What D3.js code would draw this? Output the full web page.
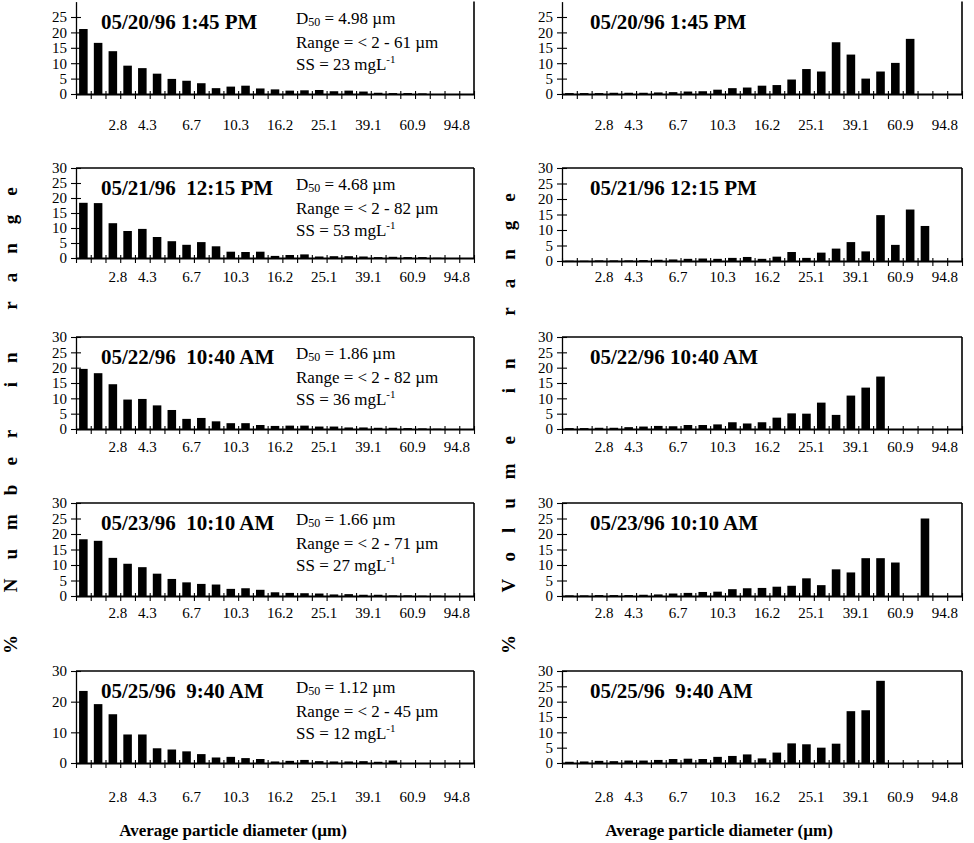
<!DOCTYPE html>
<html>
<head>
<meta charset="utf-8">
<script src="https://cdn.jsdelivr.net/npm/d3@7"></script>
<style>
  body { margin: 0; background: #fff; }
  svg { display: block; }
</style>
</head>
<body>
<div id="chart"></div>
<script>
// % of particles (by number) in each of the 27 size bins, one row per sample
const numberData = [
  [21.1, 16.6, 13.9, 9.2, 8.4, 6.6, 4.9, 4.3, 3.5, 1.9, 2.4, 2.7, 1.8, 1.5, 1.1, 1.2, 1.3, 0.9, 1.1, 0.8, 0.4, 0.3, 0.3, 0.2, 0, 0, 0],
  [18.4, 18.3, 11.6, 9.0, 9.7, 7.0, 5.6, 4.4, 5.3, 3.9, 2.1, 2.0, 2.1, 0.7, 1.0, 1.2, 0.5, 0.6, 0.6, 0.5, 0.3, 0.4, 0.3, 0.3, 0.1, 0, 0],
  [19.6, 18.2, 14.6, 9.6, 9.8, 7.7, 6.2, 3.3, 3.6, 2.5, 1.9, 1.9, 1.3, 1.0, 1.1, 1.1, 0.8, 0.8, 0.5, 0.5, 0.4, 0.4, 0.3, 0.2, 0.1, 0, 0],
  [18.3, 17.8, 12.3, 10.4, 9.3, 7.2, 5.5, 4.4, 3.9, 3.7, 2.3, 2.5, 2.0, 1.2, 1.0, 0.9, 0.8, 0.5, 0.6, 0.4, 0.4, 0.2, 0.2, 0.1, 0.1, 0, 0],
  [23.5, 19.2, 15.9, 9.3, 9.3, 4.8, 4.4, 3.8, 2.9, 1.8, 2.0, 1.6, 1.3, 0.5, 0.7, 1.0, 0.6, 0.5, 0.5, 0.6, 0.4, 0.8, 0, 0, 0, 0, 0]
];

// % of particle volume in each size bin
const volumeData = [
  [0.3, 0.3, 0.3, 0.4, 0.4, 0.4, 0.5, 0.6, 0.8, 0.9, 1.4, 1.9, 2.1, 2.7, 2.9, 4.7, 8.1, 7.3, 16.8, 12.8, 5.0, 7.3, 10.1, 17.9, 0, 0, 0],
  [0.1, 0.1, 0.2, 0.2, 0.2, 0.3, 0.4, 0.5, 0.7, 0.8, 0.7, 1.0, 1.3, 0.7, 1.4, 2.9, 1.0, 2.7, 4.0, 6.1, 3.1, 14.8, 5.2, 16.6, 11.3, 0, 0],
  [0.3, 0.3, 0.4, 0.4, 0.6, 0.8, 1.0, 0.9, 1.3, 1.3, 1.5, 2.2, 1.8, 2.2, 3.7, 5.1, 5.0, 8.6, 4.6, 10.9, 13.5, 17.1, 0, 0, 0, 0, 0],
  [0.2, 0.2, 0.3, 0.3, 0.3, 0.4, 0.5, 0.8, 1.0, 1.3, 1.4, 2.2, 2.5, 2.6, 3.0, 3.3, 5.7, 3.5, 8.6, 7.6, 12.2, 12.2, 10.8, 0, 25.0, 0, 0],
  [0.4, 0.5, 0.7, 0.6, 0.8, 0.8, 1.0, 1.3, 1.4, 1.3, 2.0, 2.3, 2.8, 1.5, 3.4, 6.4, 6.1, 5.0, 6.3, 16.9, 17.2, 26.8, 0, 0, 0, 0, 0]
];

const titlesNumber = ['05/20/96 1:45 PM', '05/21/96  12:15 PM', '05/22/96  10:40 AM', '05/23/96  10:10 AM', '05/25/96  9:40 AM'];
const titlesVolume = ['05/20/96 1:45 PM', '05/21/96 12:15 PM', '05/22/96 10:40 AM', '05/23/96 10:10 AM', '05/25/96  9:40 AM'];
const d50 = ['4.98', '4.68', '1.86', '1.66', '1.12'];
const sizeRange = ['61', '82', '82', '71', '45'];
const ss = ['23', '53', '36', '27', '12'];

const bins = d3.range(27);
const tickLabels = ['2.8', '4.3', '6.7', '10.3', '16.2', '25.1', '39.1', '60.9', '94.8'];
const tickBins = [2, 4, 7, 10, 13, 16, 19, 22, 25];

const width = 974;
const height = 843;
const font = "'Times New Roman', 'Liberation Serif', serif";

// layout of the 5 rows
const rowTop = [1.6, 168, 337, 503, 671];
const labelY = [125, 277, 447, 613, 797];

const columns = [
  {x0: 76, x1: 474, data: numberData, titles: titlesNumber, titleX: 101, notes: true,
   bottoms: [94, 258, 429, 596, 763],
   yTitle: '% Number in range', yTitleX: 17, xTitleX: 233},
  {x0: 562, x1: 962, data: volumeData, titles: titlesVolume, titleX: 590, notes: false,
   bottoms: [94, 261, 429, 596, 763],
   yTitle: '% Volume in range', yTitleX: 515, xTitleX: 719}
];

const svg = d3.select('#chart')
    .append('svg')
    .attr('width', width)
    .attr('height', height)
    .style('font-family', font);

columns.forEach(function(col, c) {
  col.data.forEach(function(values, r) {
    drawPanel(col, c, r, values);
  });

  // vertical axis title, spaced out letters
  svg.append('text')
      .attr('transform', `translate(${col.yTitleX},654) rotate(-90)`)
      .attr('font-size', 19)
      .attr('font-weight', 'bold')
      .attr('letter-spacing', 19)
      .attr('xml:space', 'preserve')
      .text(col.yTitle);

  svg.append('text')
      .attr('x', col.xTitleX)
      .attr('y', 836)
      .attr('text-anchor', 'middle')
      .attr('font-size', 17)
      .attr('font-weight', 'bold')
      .text('Average particle diameter (\u00b5m)');
});

function drawPanel(col, c, r, values) {
  const top = rowTop[r];
  const bottom = col.bottoms[r];
  const g = svg.append('g');

  const y = d3.scaleLinear().domain([0, 30]).range([bottom, top]);
  const x = d3.scaleBand().domain(bins).range([col.x0, col.x1])
      .paddingInner(0.42).paddingOuter(0.21);
  const xl = d3.scaleLinear().domain([0, 27]).range([col.x0, col.x1]);

  // bars
  g.selectAll('rect')
      .data(values)
      .enter()
      .append('rect')
      .attr('x', (d, i) => x(i))
      .attr('width', x.bandwidth())
      .attr('y', d => y(d))
      .attr('height', d => bottom - y(d))
      .attr('fill', '#000');

  // frame
  g.append('line')
      .attr('x1', col.x1).attr('x2', col.x1)
      .attr('y1', top).attr('y2', bottom)
      .attr('stroke', '#000').attr('stroke-width', 1.6);
  if (r > 0) {
    g.append('line')
        .attr('x1', col.x0).attr('x2', col.x1)
        .attr('y1', top).attr('y2', top)
        .attr('stroke', '#000').attr('stroke-width', 1.6);
  }

  // y axis
  let yTicks = [0, 5, 10, 15, 20, 25, 30];
  if (r === 0) yTicks = [0, 5, 10, 15, 20, 25];
  if (r === 4 && c === 0) yTicks = [0, 10, 20, 30];
  g.append('g')
      .attr('transform', `translate(${col.x0},0)`)
      .call(d3.axisLeft(y).tickValues(yTicks).tickSize(5).tickSizeOuter(0).tickPadding(4))
      .call(a => a.select('.domain').attr('stroke-width', 1.3))
      .call(a => a.selectAll('.tick line').attr('x1', 5).attr('x2', -5).attr('stroke-width', 1.1))
      .call(a => a.selectAll('text')
          .attr('font-family', font).attr('font-size', 15).attr('fill', '#000'));

  // x axis with a tick at every bin edge
  g.append('g')
      .attr('transform', `translate(0,${bottom})`)
      .call(d3.axisBottom(xl).tickValues(d3.range(28)).tickFormat('').tickSize(5).tickSizeOuter(0))
      .call(a => a.select('.domain').attr('stroke-width', 2))
      .call(a => a.selectAll('.tick line').attr('y1', -3).attr('stroke-width', 1.1));

  g.selectAll('.xlab')
      .data(tickLabels)
      .enter()
      .append('text')
      .attr('x', (d, i) => x(tickBins[i]) + x.bandwidth() / 2 + 5)
      .attr('y', labelY[r] + 5)
      .attr('text-anchor', 'middle')
      .attr('font-size', 15)
      .text(d => d);

  // sample time
  g.append('text')
      .attr('x', col.titleX)
      .attr('y', top + 27)
      .attr('font-size', 21)
      .attr('font-weight', 'bold')
      .attr('xml:space', 'preserve')
      .text(col.titles[r]);

  if (!col.notes) return;

  const nx = col.x0 + 220;
  const t1 = g.append('text').attr('x', nx).attr('y', top + 22).attr('font-size', 17);
  t1.append('tspan').text('D');
  t1.append('tspan').attr('font-size', 12).attr('dy', 2).text('50');
  t1.append('tspan').attr('dy', -2).text(' = ' + d50[r] + ' \u00b5m');

  g.append('text').attr('x', nx).attr('y', top + 46).attr('font-size', 17)
      .text('Range = < 2 - ' + sizeRange[r] + ' \u00b5m');

  const t3 = g.append('text').attr('x', nx).attr('y', top + 68).attr('font-size', 17);
  t3.append('tspan').text('SS = ' + ss[r] + ' mgL');
  t3.append('tspan').attr('font-size', 11).attr('dy', -7).text('-1');
}
</script>
</body>
</html>
